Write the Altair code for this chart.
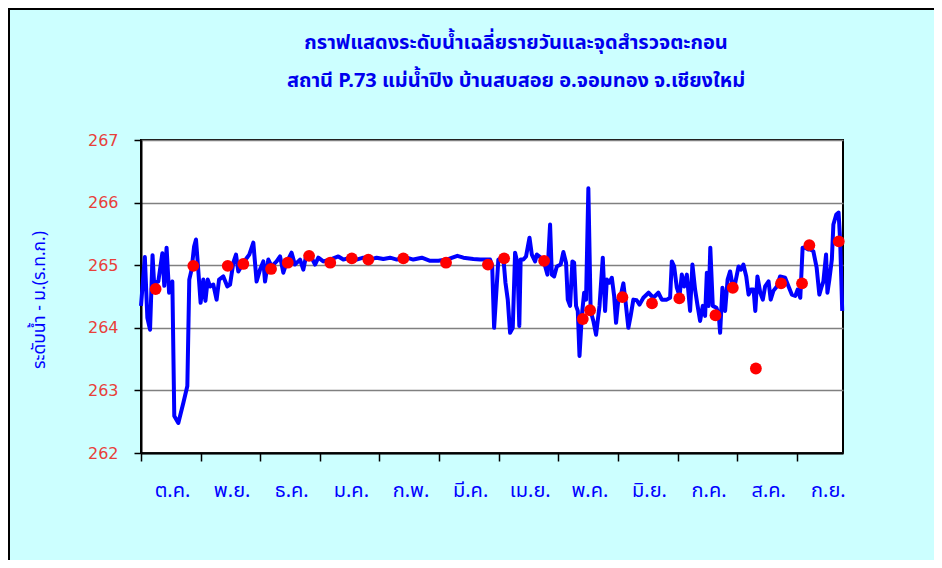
import json
import altair as alt
import pandas as pd

# ---------------- data ----------------
title_lines = [
    "กราฟแสดงระดับน้ำเฉลี่ยรายวันและจุดสำรวจตะกอน",
    "สถานี P.73 แม่น้ำปิง บ้านสบสอย  อ.จอมทอง จ.เชียงใหม่",
]
y_title = "ระดับน้ำ - ม.(ร.ท.ก.)"
month_labels = ["ต.ค.", "พ.ย.", "ธ.ค.", "ม.ค.", "ก.พ.", "มี.ค.",
                "เม.ย.", "พ.ค.", "มิ.ย.", "ก.ค.", "ส.ค.", "ก.ย."]
month_ticks = [0, 31, 62, 93, 124, 155, 186, 217, 248, 279, 310, 341]
y_ticks = [262, 263, 264, 265, 266, 267]

# daily water level (day index from 1 Oct, level m MSL)
line_day = [0, 2, 3.3, 4.7, 6, 6.8, 9, 11.1, 12.1, 13.3, 14.6, 16.3, 17.3, 19.4, 22, 24.1,
            25.1, 26.3, 27.6, 28.6, 29.5, 31, 32.4, 33.5, 34.7, 35.9, 37.6, 39.3, 40.6,
            42.8, 44.9, 46.3, 48, 49.4, 50.6, 53.2, 56.3, 58.4, 60.1, 61.9, 63.6, 64.5,
            66.2, 67.9, 70.5, 72.3, 74, 75.7, 78.3, 80, 82.7, 84.4, 85.8, 87.9, 90.5,
            92.2, 94.8, 98.3, 102.6, 105.2, 108.7, 112.1, 115.6, 119.1, 122.5, 126,
            129.5, 133, 138.2, 141.6, 146, 150.3, 154.6, 159, 164.5, 167.6, 172.8,
            176.3, 181.5, 182.6, 183.6, 185.8, 188.4, 189.5, 190.7, 191.9, 193.3, 194.5,
            195.7, 196.7, 197.4, 198.8, 200.2, 202, 203.2, 204.9, 205.8, 209.2, 211.3,
            212.7, 213.6, 214.8, 216.2, 218.2, 219.6, 221, 221.9, 223.1, 224.3, 225.2,
            226.2, 227.1, 228, 229.2, 230.4, 231.4, 232.6, 233.8, 235.2, 236.6, 238.4,
            240.1, 241.3, 242.2, 243.5, 244.8, 246, 247, 248.2, 249.4, 250.8, 252,
            253.4, 254.6, 256, 257.7, 259.2, 261.2, 263.9, 266.4, 269, 270.8, 273.4,
            275.1, 276, 277.2, 278.6, 280, 281.2, 282.4, 283.8, 285.5, 286.7, 288.1,
            289.3, 290.7, 292.1, 293.3, 294.2, 295.1, 296, 297.3, 299.2, 300.4, 301.1,
            302.3, 303.7, 305, 306.3, 307.7, 309, 310.7, 311.9, 313.2, 314.7, 315.9,
            317.2, 318.5, 319.4, 320.5, 322, 323.3, 324.5, 326.3, 327.4, 328.8, 330.6,
            332.3, 334.9, 336.7, 338.4, 340.2, 341.4, 342.8, 344, 345.3, 347, 348.2,
            349.6, 351.3, 352.7, 353.9, 354.8, 356.2, 356.9, 357.9, 359.2, 360, 361.5,
            362.7, 363.5, 364.6]
line_level = [264.35, 265.13, 264.16, 263.97, 265.16, 264.72, 264.74, 265.19, 264.67, 265.28,
              264.56, 264.74, 262.59, 262.48, 262.8, 263.07, 264.77, 264.93, 265.3, 265.41,
              265.04, 264.4, 264.77, 264.43, 264.77, 264.66, 264.69, 264.45, 264.77, 264.82,
              264.66, 264.69, 265.04, 265.17, 264.9, 265.04, 265.17, 265.36, 264.74, 264.93,
              265.06, 264.74, 265.09, 264.98, 265.06, 265.14, 264.88, 265.04, 265.2, 265.01,
              265.09, 264.93, 265.14, 265.17, 265.01, 265.12, 265.06, 265.09, 265.14, 265.09,
              265.12, 265.09, 265.12, 265.09, 265.12, 265.1, 265.12, 265.09, 265.12, 265.09,
              265.12, 265.07, 265.07, 265.09, 265.15, 265.12, 265.1, 265.09, 265.09, 264.98,
              264.0, 265.09, 265.12, 264.72, 264.45, 263.92, 264.0, 265.2, 265.04, 264.03,
              265.09, 265.09, 265.14, 265.44, 265.17, 265.06, 265.17, 265.09, 264.85, 265.65,
              264.85, 264.82, 264.98, 265.01, 265.21, 265.04, 264.45, 264.35, 265.06, 265.04,
              264.35, 264.27, 263.55, 264.19, 264.56, 264.45, 266.23, 264.27, 264.11, 263.89,
              264.35, 265.12, 264.27, 264.77, 264.72, 264.8, 264.51, 264.08, 264.45, 264.51,
              264.71, 264.4, 264.0, 264.19, 264.45, 264.44, 264.37, 264.48, 264.56, 264.48,
              264.56, 264.45, 264.45, 264.48, 265.06, 264.98, 264.64, 264.51, 264.85, 264.66,
              264.85, 264.27, 265.01, 264.61, 264.37, 264.11, 264.35, 264.19, 264.88, 264.35,
              265.28, 264.35, 264.32, 264.21, 263.92, 264.64, 264.27, 264.77, 264.9, 264.66,
              264.72, 264.98, 264.93, 265.01, 264.82, 264.53, 264.61, 264.61, 264.27, 264.82,
              264.56, 264.45, 264.66, 264.74, 264.45, 264.59, 264.66, 264.82, 264.8, 264.66,
              264.53, 264.51, 264.61, 264.48, 265.28, 265.28, 265.25, 265.25, 265.22, 264.96,
              264.53, 264.66, 264.74, 265.17, 264.56, 264.77, 265.09, 265.65, 265.81, 265.84,
              265.41, 264.27]

# sediment survey points
survey_day = [7.6, 27.2, 45.1, 53.2, 67.6, 76.3, 87.4, 98.4, 109.6, 118.2, 136.4, 158.6,
              180.4, 188.8, 209.6, 229.7, 233.5, 250.3, 265.7, 279.9, 298.7, 307.7, 319.7,
              332.8, 343.7, 347.5, 362.8]
survey_level = [264.62, 264.99, 264.99, 265.02, 264.94, 265.04, 265.15, 265.04, 265.11,
                265.09, 265.11, 265.04, 265.01, 265.11, 265.07, 264.14, 264.28, 264.49,
                264.39, 264.47, 264.20, 264.64, 263.35, 264.71, 264.71, 265.32, 265.38]

# ---------------- chart ----------------
W, H = 702, 313
PAD = {"left": 133, "top": 132, "right": 91, "bottom": 107}
THAI = "Tahoma, 'Noto Sans Thai', 'Leelawadee UI', 'DejaVu Sans', sans-serif"
BLUE = "#0000FF"
RED = "#FF0000"

line_df = pd.DataFrame({"day": line_day, "level": line_level})
pt_df = pd.DataFrame({"day": survey_day, "level": survey_level})

x_scale = alt.Scale(domain=[0, 365], nice=False, zero=False)
y_scale = alt.Scale(domain=[262, 267], nice=False, zero=False)

label_expr = json.dumps(month_labels, ensure_ascii=False) + "[round(datum.value / 31)]"

x_axis = alt.Axis(values=month_ticks, labelExpr=label_expr, title=None, grid=False,
                  tickSize=8, tickColor="black", tickWidth=1.5,
                  domainColor="black", domainWidth=2,
                  labelColor=BLUE, labelFontSize=20, labelFont=THAI,
                  labelPadding=19, labelOffset=31, labelFlush=False, labelOverlap=False)
y_axis = alt.Axis(values=y_ticks, format="d", grid=True, gridColor="#808080", gridWidth=1.5,
                  tickSize=7, tickColor="black", tickWidth=1.5,
                  domainColor="black", domainWidth=2,
                  labelColor="#E8403A", labelFontSize=16, labelFont="Tahoma, 'DejaVu Sans', sans-serif",
                  labelPadding=16,
                  title=y_title, titleColor=BLUE, titleFontSize=17.5, titleFontWeight="normal",
                  titleFont=THAI, titleAngle=-90, titleX=-102, titleY=H / 2 + 3,
                  titleAlign="center", titleBaseline="middle")

line = alt.Chart(line_df).mark_line(color=BLUE, strokeWidth=4, strokeJoin="round").encode(
    x=alt.X("day:Q", scale=x_scale, axis=x_axis),
    y=alt.Y("level:Q", scale=y_scale, axis=y_axis),
)
points = alt.Chart(pt_df).mark_circle(color=RED, size=140, opacity=1).encode(
    x=alt.X("day:Q", scale=x_scale),
    y=alt.Y("level:Q", scale=y_scale),
)

frame_df = pd.DataFrame({"k": [0]})
border_left = alt.Chart(frame_df).mark_rule(color="black", strokeWidth=2).encode(
    x=alt.value(-132), y=alt.value(-131), y2=alt.value(H + PAD["bottom"]))
border_top = alt.Chart(frame_df).mark_rule(color="black", strokeWidth=2).encode(
    x=alt.value(-133), x2=alt.value(W + PAD["right"]), y=alt.value(-131))

chart = alt.layer(line, points, border_left, border_top).properties(
    width=W, height=H,
    autosize=alt.AutoSizeParams(type="none"),
    padding=PAD,
    background="#CCFFFF",
    title=alt.TitleParams(text=title_lines, anchor="middle", frame="group", dx=24,
                          fontSize=20, color="#0000EE", font=THAI, fontWeight="bold",
                          lineHeight=38, offset=-83),
).configure_view(stroke="black", strokeWidth=2, fill="white")

chart.save("out.html", embed_options={"renderer": "svg", "actions": False})
